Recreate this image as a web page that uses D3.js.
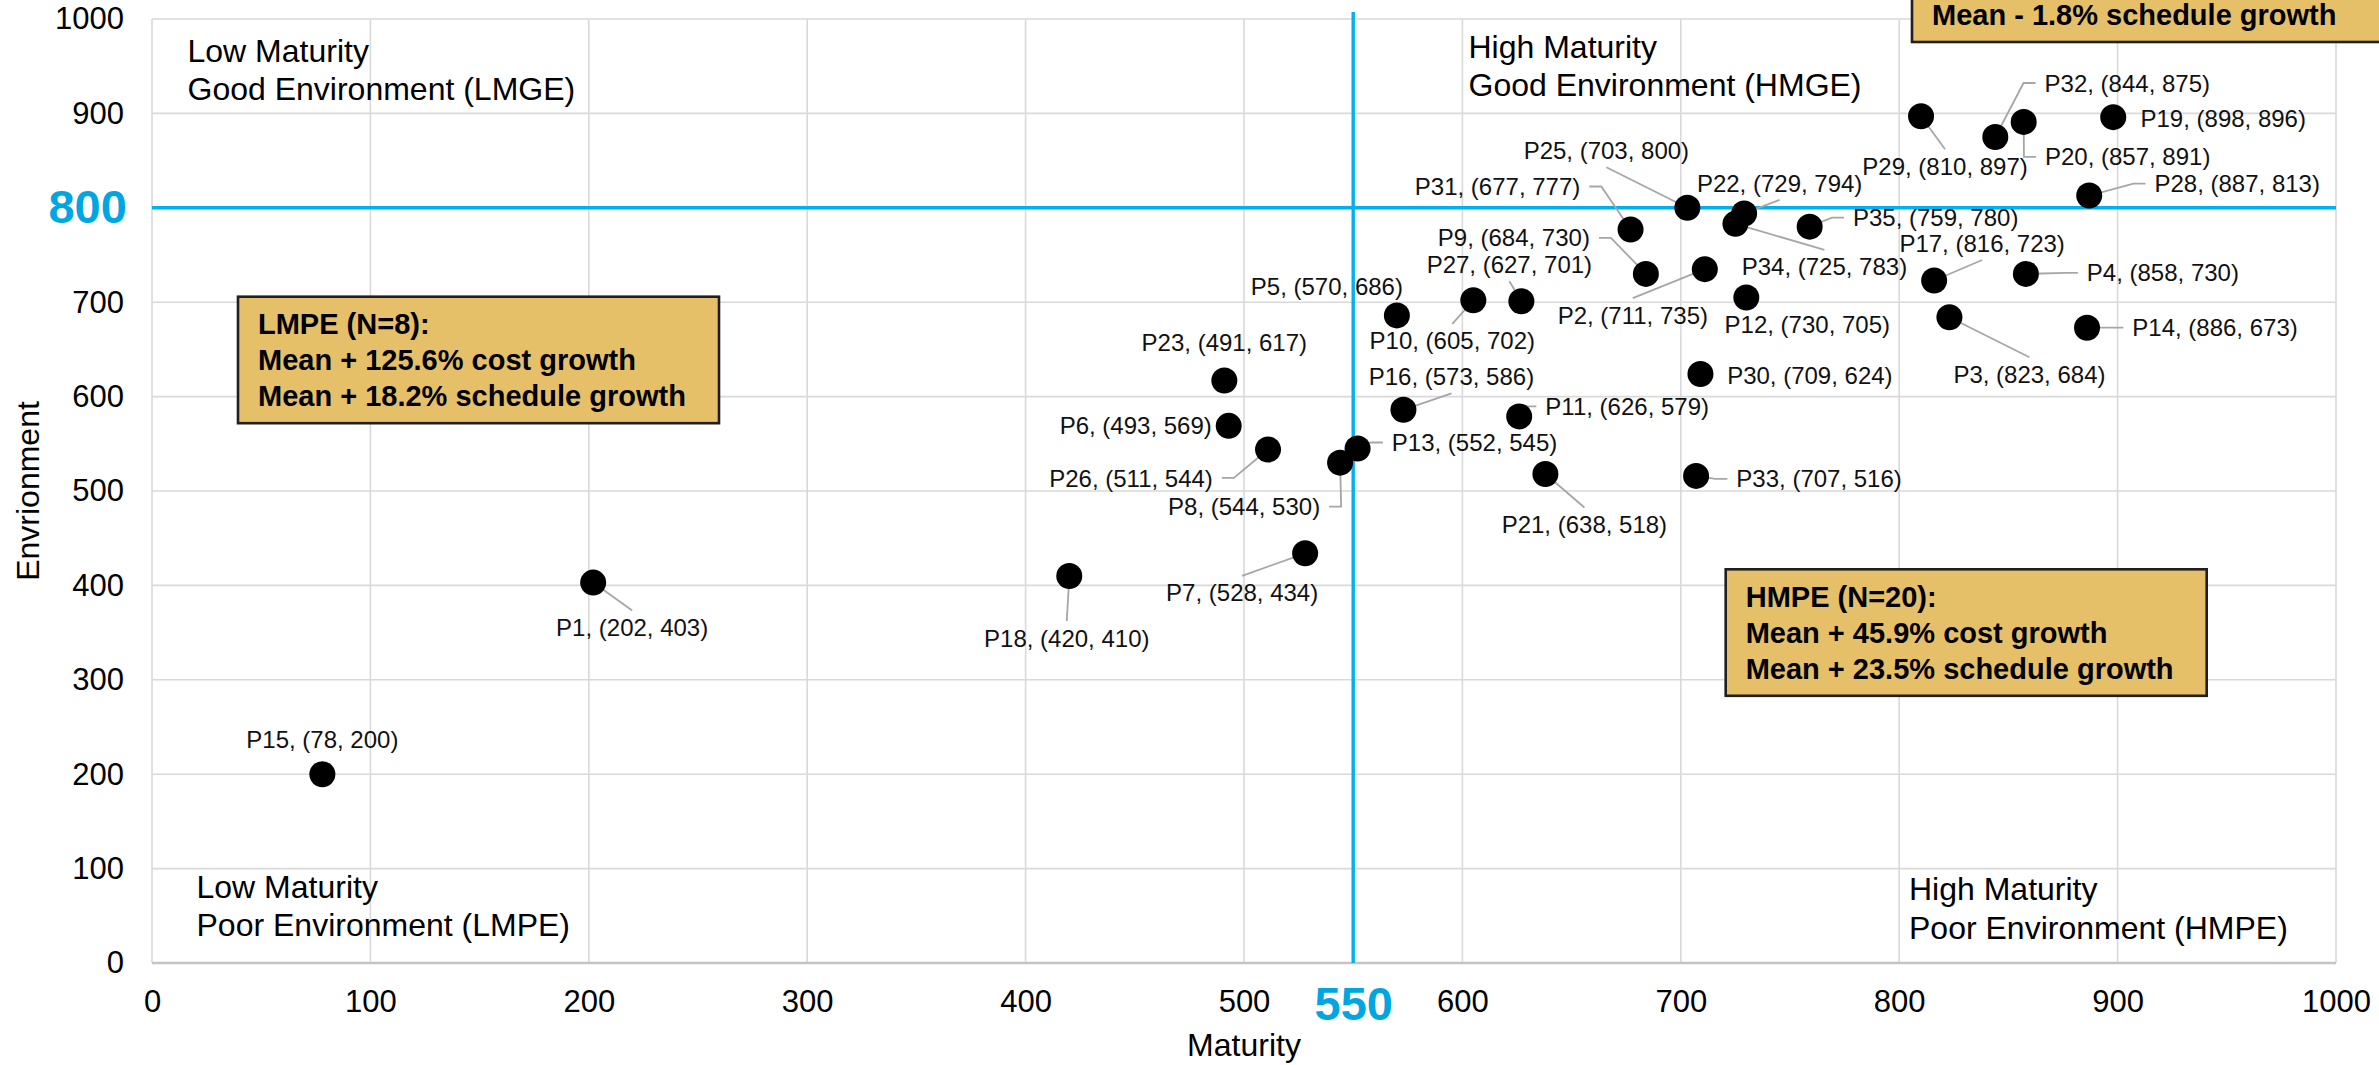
<!DOCTYPE html>
<html>
<head>
<meta charset="utf-8">
<script src="https://cdn.jsdelivr.net/npm/d3@7/dist/d3.min.js"></script>
<style>
  html, body { margin: 0; padding: 0; background: #ffffff; }
  svg { display: block; font-family: "Liberation Sans", Arial, Helvetica, sans-serif; }
</style>
</head>
<body>
<svg id="chart" width="2379" height="1065"></svg>
<script>
// ---- data ----
const projects    = ["P1","P2","P3","P4","P5","P6","P7","P8","P9","P10","P11","P12","P13","P14","P15","P16","P17","P18","P19","P20","P21","P22","P23","P25","P26","P27","P28","P29","P30","P31","P32","P33","P34","P35"];
const maturity    = [202, 711, 823, 858, 570, 493, 528, 544, 684, 605, 626, 730, 552, 886,  78, 573, 816, 420, 898, 857, 638, 729, 491, 703, 511, 627, 887, 810, 709, 677, 844, 707, 725, 759];
const environment = [403, 735, 684, 730, 686, 569, 434, 530, 730, 702, 579, 705, 545, 673, 200, 586, 723, 410, 896, 891, 518, 794, 617, 800, 544, 701, 813, 897, 624, 777, 875, 516, 783, 780];

const xTicks = [0, 100, 200, 300, 400, 500, 550, 600, 700, 800, 900, 1000];
const yTicks = [0, 100, 200, 300, 400, 500, 600, 700, 800, 900, 1000];
const gridValues = [0, 100, 200, 300, 400, 500, 600, 700, 800, 900, 1000];
const maturityCut = 550;
const environmentCut = 800;

const quadrantNames = [
  ["Low Maturity", "Good Environment (LMGE)"],
  ["High Maturity", "Good Environment (HMGE)"],
  ["Low Maturity", "Poor Environment (LMPE)"],
  ["High Maturity", "Poor Environment (HMPE)"]
];
const summaryLMPE = ["Mean + 125.6% cost growth", "Mean + 18.2% schedule growth"];
const summaryHMPE = ["Mean + 45.9% cost growth", "Mean + 23.5% schedule growth"];
const summaryHMGE = ["Mean - 1.8% schedule growth"];

// ---- label placement: offset of each label centre from its marker (px) and leader attachment ----
const labelPlacement = {
  P1:[39,45,"top"],    P2:[-72,46,"top"],    P3:[80,57,"top"],     P4:[137,-1,"left"],
  P5:[-70,-29,"none"], P6:[-93,0,"none"],    P7:[-63,39.5,"top"],  P8:[-96,44,"right"],
  P9:[-132,-36,"right"], P10:[-21,40.5,"top"], P11:[108,-10,"left"], P12:[61,27,"none"],
  P13:[117,-6,"left"], P14:[128,0,"left"],   P15:[0,-35,"none"],   P16:[48,-33.5,"bottom"],
  P17:[48,-37.5,"bottom"], P18:[-2.5,62,"top"], P19:[110,1,"none"], P20:[104,35,"left"],
  P21:[39,50.5,"top"], P22:[35.5,-30.5,"bottom"], P23:[0,-37.7,"none"], P25:[-81,-57.5,"bottom"],
  P26:[-137,28.5,"right"], P27:[-12,-37,"bottom"], P28:[148,-12,"left"], P29:[24,50,"top"],
  P30:[109.4,1,"none"], P31:[-133,-43,"right"], P32:[132,-54,"left"], P33:[123,3,"left"],
  P34:[89,43,"top"],   P35:[126,-9,"left"]
};

// ---- layout ----
const margin = { left: 152, right: 43, top: 19, bottom: 102 };
const W = 2379, H = 1065;
const svg = d3.select("#chart");
svg.append("rect").attr("width", W).attr("height", H).attr("fill", "#fff");

const x = d3.scaleLinear().domain([0, 1000]).range([margin.left, W - margin.right]);
const y = d3.scaleLinear().domain([0, 1000]).range([H - margin.bottom, margin.top]);

const BLUE = "#00B0F0";
const BLUE_TEXT = "#00A6E2";
const GRID = "#d9d9d9";

// grid
const grid = svg.append("g");
grid.selectAll("line.v").data(gridValues).join("line")
  .attr("x1", d => x(d)).attr("x2", d => x(d))
  .attr("y1", y(0)).attr("y2", y(1000))
  .attr("stroke", GRID).attr("stroke-width", 1.6);
grid.selectAll("line.h").data(gridValues).join("line")
  .attr("x1", x(0)).attr("x2", x(1000))
  .attr("y1", d => y(d)).attr("y2", d => y(d))
  .attr("stroke", GRID).attr("stroke-width", 1.6);
grid.append("line")
  .attr("x1", x(0)).attr("x2", x(1000)).attr("y1", y(0)).attr("y2", y(0))
  .attr("stroke", "#c4c4c4").attr("stroke-width", 2.6);

// axes
const xAxis = svg.append("g").attr("transform", `translate(0,${y(0)})`)
  .call(d3.axisBottom(x).tickValues(xTicks).tickSize(0).tickPadding(27).tickFormat(d3.format("d")));
const yAxis = svg.append("g").attr("transform", `translate(${x(0)},0)`)
  .call(d3.axisLeft(y).tickValues(yTicks).tickSize(0).tickPadding(28).tickFormat(d3.format("d")));
[xAxis, yAxis].forEach(a => {
  a.select(".domain").remove();
  a.selectAll("text").attr("font-family", "'Liberation Sans', Arial, sans-serif")
    .attr("font-size", 31).attr("fill", "#000");
});
xAxis.selectAll(".tick").filter(d => d === maturityCut).select("text")
  .attr("font-size", 47).attr("font-weight", "bold").attr("fill", BLUE_TEXT).attr("dy", "0.64em");
yAxis.selectAll(".tick").filter(d => d === environmentCut).select("text")
  .attr("font-size", 47).attr("font-weight", "bold").attr("fill", BLUE_TEXT).attr("dx", "0.06em");

// axis titles
svg.append("text").attr("x", (x(0) + x(1000)) / 2).attr("y", 1056)
  .attr("text-anchor", "middle").attr("font-size", 32).attr("fill", "#000").text("Maturity");
svg.append("text").attr("transform", `translate(39,${(y(0) + y(1000)) / 2}) rotate(-90)`)
  .attr("text-anchor", "middle").attr("font-size", 32).attr("fill", "#000").text("Envrionment");

// threshold lines
svg.append("line")
  .attr("x1", x(0)).attr("x2", x(1000)).attr("y1", y(environmentCut)).attr("y2", y(environmentCut))
  .attr("stroke", BLUE).attr("stroke-width", 3.6);
svg.append("line")
  .attr("x1", x(maturityCut)).attr("x2", x(maturityCut)).attr("y1", y(0)).attr("y2", y(1000) - 7)
  .attr("stroke", BLUE).attr("stroke-width", 3.4);

// quadrant names
const quadPos = [
  { x: 187.5, y: 61.7 },
  { x: 1468.5, y: 57.5 },
  { x: 196.5, y: 897.5 },
  { x: 1909, y: 900 }
];
quadrantNames.forEach((lines, i) => {
  const t = svg.append("text").attr("font-size", 32).attr("fill", "#000");
  lines.forEach((s, j) => t.append("tspan").attr("x", quadPos[i].x).attr("y", quadPos[i].y + j * 38.5).text(s));
});

// points
const points = projects.map((id, i) => ({ id, mx: maturity[i], env: environment[i] }));
const countIn = (f) => points.filter(f).length;
const nLMPE = countIn(p => p.mx < maturityCut && p.env < environmentCut);
const nHMPE = countIn(p => p.mx >= maturityCut && p.env < environmentCut);

// summary boxes: lines are laid out from the box's bottom edge upward
function summaryBox(left, bottom, lines) {
  const g = svg.append("g");
  const h = 126.5;
  g.append("rect").attr("x", left).attr("y", bottom - h).attr("width", 481).attr("height", h)
    .attr("fill", "#E6BF69").attr("stroke", "#1f1f1f").attr("stroke-width", 2.6);
  const n = lines.length;
  lines.forEach((s, j) => {
    g.append("text").attr("x", left + 20).attr("y", bottom - 17.3 - (n - 1 - j) * 35.8)
      .attr("font-size", 29).attr("font-weight", "bold").attr("fill", "#000").text(s);
  });
}
summaryBox(238, 423.2, [`LMPE (N=${nLMPE}):`, ...summaryLMPE]);
summaryBox(1725.7, 695.8, [`HMPE (N=${nHMPE}):`, ...summaryHMPE]);
summaryBox(1912, 42, summaryHMGE);

// labels first (to measure), leaders beneath them, then markers on top
const LABEL_FS = 24;
const labelLayer = svg.append("g");
const leaderLayer = svg.insert("g", () => labelLayer.node());
const markerLayer = svg.append("g");

points.forEach(p => {
  const [dx, dy, mode] = labelPlacement[p.id];
  const px = x(p.mx), py = y(p.env);
  const cx = px + dx, cy = py + dy;
  const t = labelLayer.append("text")
    .attr("x", cx).attr("y", cy + LABEL_FS * 0.358)
    .attr("text-anchor", "middle").attr("font-size", LABEL_FS).attr("fill", "#111")
    .text(`${p.id}, (${p.mx}, ${p.env})`);
  const w = t.node().getComputedTextLength();
  let pts = null;
  if (mode === "top") pts = [[px, py], [cx, cy - 17]];
  else if (mode === "bottom") pts = [[px, py], [cx, cy + 17]];
  else if (mode === "left") { const e1 = cx - w / 2 - 9; pts = [[px, py], [e1 - 12, cy], [e1, cy]]; }
  else if (mode === "right") { const e1 = cx + w / 2 + 9; pts = [[px, py], [e1 + 12, cy], [e1, cy]]; }
  if (pts) {
    leaderLayer.append("path").attr("d", d3.line()(pts))
      .attr("fill", "none").attr("stroke", "#a6a6a6").attr("stroke-width", 1.8);
  }
});

markerLayer.selectAll("circle").data(points).join("circle")
  .attr("cx", d => x(d.mx)).attr("cy", d => y(d.env)).attr("r", 13)
  .attr("fill", "#000");
</script>
</body>
</html>
